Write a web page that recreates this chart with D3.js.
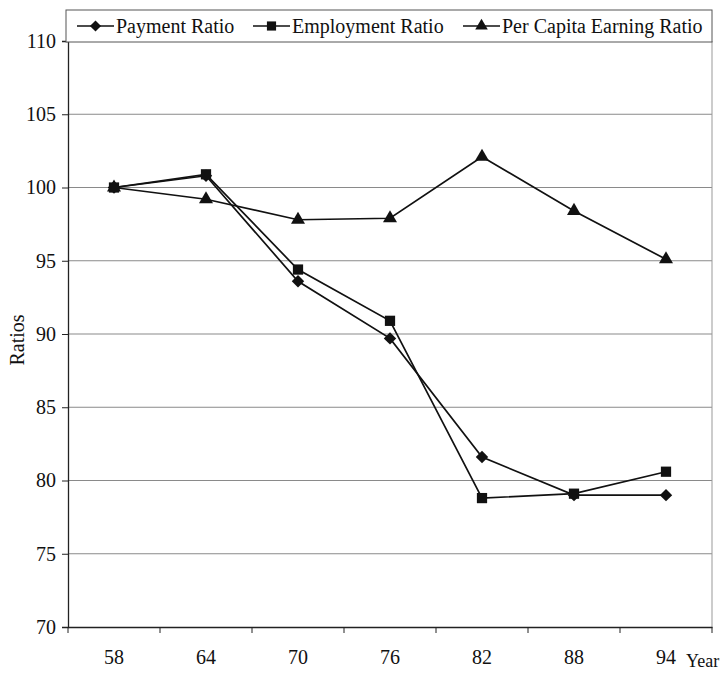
<!DOCTYPE html>
<html><head><meta charset="utf-8">
<script src="https://cdn.jsdelivr.net/npm/d3@7"></script>
<style>body{margin:0;background:#fff}svg{display:block}text{font-family:"Liberation Serif","Times New Roman",serif;fill:#111}</style>
</head><body><svg id="c" width="727" height="673"></svg>
<script>
const years = ["58","64","70","76","82","88","94"];
const paymentRatio = [100, 100.8, 93.6, 89.7, 81.6, 79.0, 79.0];
const employmentRatio = [100, 100.9, 94.4, 90.9, 78.8, 79.1, 80.6];
const perCapitaRatio = [100, 99.2, 97.8, 97.9, 102.1, 98.4, 95.1];
const yTicks = [70, 75, 80, 85, 90, 95, 100, 105, 110];
const seriesNames = ["Payment Ratio", "Employment Ratio", "Per Capita Earning Ratio"];

const FONT = "Liberation Serif";
const svg = d3.select("#c");
const L = 68, R = 712, T = 41, B = 627;
const x = d3.scaleBand().domain(years).range([L, R]);
const y = d3.scaleLinear().domain([70, 110]).range([B, T]);

const diamond = { draw(ctx, size) { const r = Math.sqrt(size) / 2 * 1.05; ctx.moveTo(0, -r); ctx.lineTo(r, 0); ctx.lineTo(0, r); ctx.lineTo(-r, 0); ctx.closePath(); } };
const seriesSymbols = [diamond, d3.symbolSquare, d3.symbolTriangle];
const seriesSizes = [140, 105, 85];

// gridlines
svg.append("g").selectAll("line").data(yTicks.filter(v => v > 70)).join("line")
  .attr("x1", L).attr("x2", R).attr("y1", d => y(d)).attr("y2", d => y(d))
  .attr("stroke", "#8a8a8a").attr("stroke-width", 1.2);
svg.append("line").attr("x1", R).attr("x2", R).attr("y1", T).attr("y2", B)
  .attr("stroke", "#999").attr("stroke-width", 1);

// y axis
const ya = svg.append("g").attr("transform", `translate(${L},0)`)
  .call(d3.axisLeft(y).tickValues(yTicks).tickSize(6).tickPadding(6));
ya.attr("font-family", FONT);
ya.select(".domain").attr("stroke", "#222").attr("stroke-width", 1.3);
ya.selectAll(".tick line").attr("stroke", "#222");
ya.selectAll("text").attr("font-size", 20).attr("font-family", FONT);

// x axis
const xa = svg.append("g").attr("transform", `translate(0,${B})`)
  .call(d3.axisBottom(x).tickSize(0).tickPadding(23));
xa.attr("font-family", FONT);
xa.select(".domain").attr("stroke", "#222").attr("stroke-width", 1.3);
xa.selectAll("text").attr("font-size", 20).attr("font-family", FONT);
xa.selectAll("line.bt").data(years.concat(["end"])).join("line").attr("class", "bt")
  .attr("x1", (d, i) => L + i * x.step()).attr("x2", (d, i) => L + i * x.step())
  .attr("y1", 0).attr("y2", 6).attr("stroke", "#222");

svg.append("text").attr("x", 686).attr("y", 667).attr("font-size", 18).text("Year");
svg.append("text").attr("transform", "translate(24,340) rotate(-90)")
  .attr("text-anchor", "middle").attr("font-size", 20).text("Ratios");

// series
const allSeries = [paymentRatio, employmentRatio, perCapitaRatio];
const line = d3.line().x((d, i) => x(years[i]) + x.bandwidth() / 2).y(d => y(d));
allSeries.forEach((s, k) => {
  svg.append("path").attr("d", line(s)).attr("fill", "none")
    .attr("stroke", "#111").attr("stroke-width", 1.7);
  svg.append("g").selectAll("path").data(s).join("path")
    .attr("transform", (d, i) => `translate(${x(years[i]) + x.bandwidth() / 2},${y(d)})`)
    .attr("d", d3.symbol().type(seriesSymbols[k]).size(seriesSizes[k]))
    .attr("fill", "#111");
});

// legend
const lg = svg.append("g");
lg.append("rect").attr("x", 66).attr("y", 10).attr("width", 646).attr("height", 32)
  .attr("fill", "#fff").attr("stroke", "#555").attr("stroke-width", 1);
const legX = [77, 253, 463];
seriesNames.forEach((n, k) => {
  lg.append("line").attr("x1", legX[k]).attr("x2", legX[k] + 37).attr("y1", 26).attr("y2", 26)
    .attr("stroke", "#111").attr("stroke-width", 1.7);
  lg.append("path").attr("transform", `translate(${legX[k] + 18.5},26)`)
    .attr("d", d3.symbol().type(seriesSymbols[k]).size(seriesSizes[k] * 0.8)).attr("fill", "#111");
  lg.append("text").attr("x", legX[k] + 39).attr("y", 33).attr("font-size", 20).text(n);
});
</script></body></html>
